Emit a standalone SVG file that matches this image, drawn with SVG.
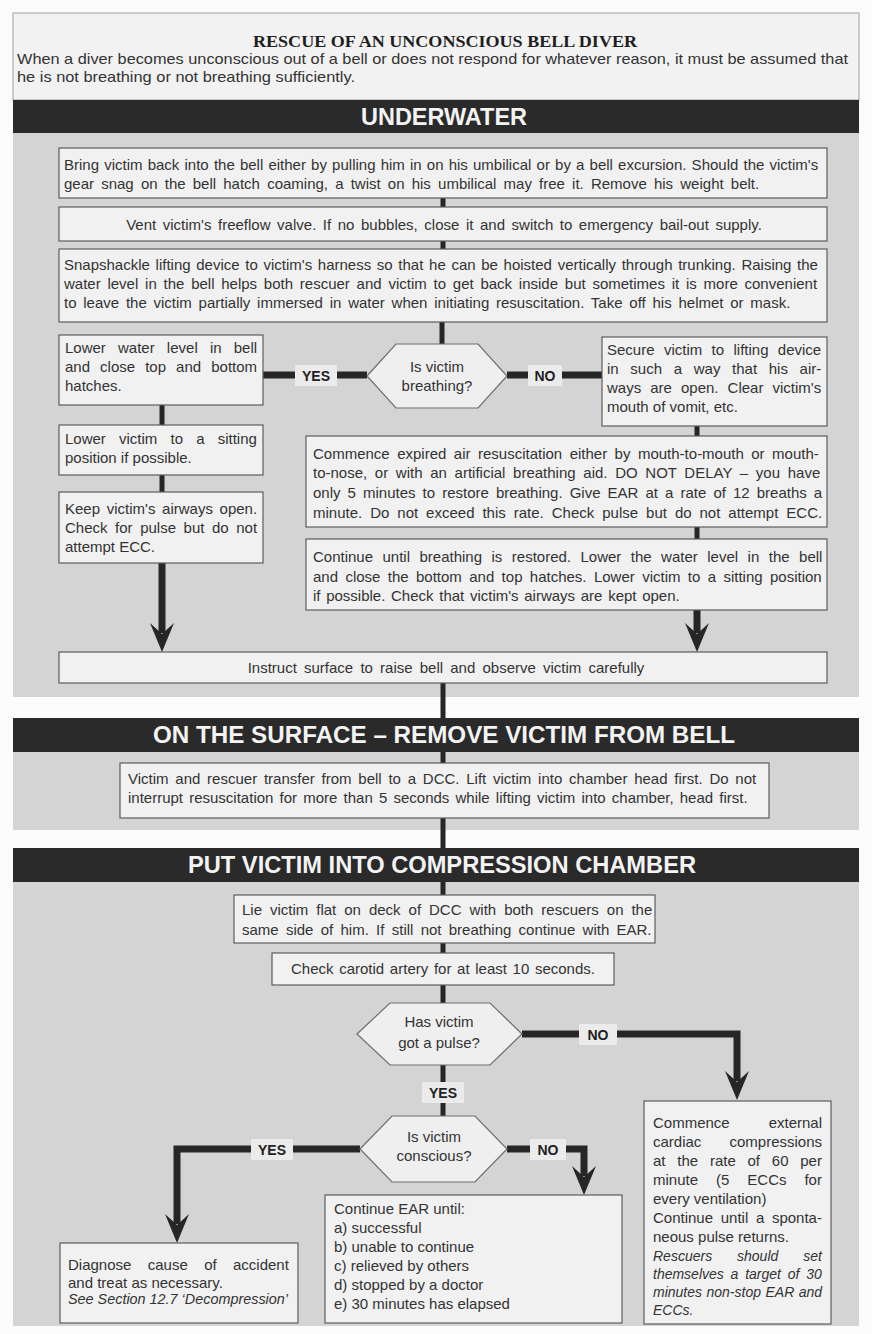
<svg xmlns="http://www.w3.org/2000/svg" width="872" height="1334" viewBox="0 0 872 1334">
<defs>
<style>
.bg{fill:#fbfbfb}
.panel{fill:#d4d4d4}
.band{fill:#2a2a2a}
.hdr{fill:#f2f2f2;stroke:#a0a0a0;stroke-width:1}
.box{fill:#f1f1f1;stroke:#5e5e5e;stroke-width:1.2}
.hex{fill:#efefef;stroke:#6e6e6e;stroke-width:1.2}
.t{font-family:"Liberation Sans",Arial,Helvetica,sans-serif;font-size:15px;fill:#333333}
.it{font-style:italic;font-size:14px}
.m{text-anchor:middle}
.bt{font-family:"Liberation Sans",Arial,sans-serif;font-weight:bold;font-size:23px;fill:#f3f3f3;text-anchor:middle}
.title{font-family:"Liberation Serif","Times New Roman",serif;font-weight:bold;font-size:17px;fill:#1e1e1e;text-anchor:middle}
.ln{stroke:#262626;fill:none;stroke-linejoin:miter}
.w5{stroke-width:5}
.w7{stroke-width:7}
.arr{marker-end:url(#ah)}
.lb{fill:#ebebeb}
.lt{font-family:"Liberation Sans",Arial,sans-serif;font-weight:bold;font-size:14px;fill:#222;text-anchor:middle}
</style>
<marker id="ah" markerUnits="userSpaceOnUse" markerWidth="30" markerHeight="24" refX="10" refY="12" orient="auto" viewBox="0 0 30 24">
<path d="M0,0 L29,12 L0,24 L11,12 Z" fill="#262626"/>
</marker>
</defs>

<g id="background">
<rect class="bg" x="0" y="0" width="872" height="1334"/>
<rect class="panel" x="13" y="133" width="846" height="564"/>
<rect class="panel" x="13" y="752" width="846" height="78"/>
<rect class="panel" x="13" y="882" width="846" height="444"/>
</g>

<g id="header">
<rect class="hdr" x="13" y="13" width="846" height="87"/>
<text class="title" x="445" y="47" textLength="384" lengthAdjust="spacingAndGlyphs">RESCUE OF AN UNCONSCIOUS BELL DIVER</text>
<text class="t" x="17" y="64" textLength="831" lengthAdjust="spacingAndGlyphs">When a diver becomes unconscious out of a bell or does not respond for whatever reason, it must be assumed that</text>
<text class="t" x="17" y="82" textLength="338" lengthAdjust="spacingAndGlyphs">he is not breathing or not breathing sufficiently.</text>
</g>

<g id="band-underwater">
<rect class="band" x="13" y="100" width="846" height="33"/>
<text class="bt" x="444" y="125" textLength="166" lengthAdjust="spacingAndGlyphs">UNDERWATER</text>
</g>
<g id="band-surface">
<rect class="band" x="13" y="718" width="846" height="34"/>
<text class="bt" x="444" y="743" textLength="582" lengthAdjust="spacingAndGlyphs">ON THE SURFACE – REMOVE VICTIM FROM BELL</text>
</g>
<g id="band-chamber">
<rect class="band" x="13" y="848" width="846" height="34"/>
<text class="bt" x="442" y="873" textLength="508" lengthAdjust="spacingAndGlyphs">PUT VICTIM INTO COMPRESSION CHAMBER</text>
</g>

<g id="connectors">
<path class="ln w5" d="M443,198 V207"/>
<path class="ln w5" d="M443,241 V249"/>
<path class="ln w5" d="M442,322 V344"/>
<path class="ln w5" d="M162,405 V425"/>
<path class="ln w5" d="M162,475 V492"/>
<path class="ln w7 arr" d="M162,563 V633"/>
<path class="ln w7" d="M263,375 H367"/>
<path class="ln w7" d="M507,375 H602"/>
<path class="ln w5" d="M697,426 V436"/>
<path class="ln w5" d="M697,527 V539"/>
<path class="ln w7 arr" d="M697,610 V633"/>
<path class="ln w5" d="M443,683 V718"/>
<path class="ln w5" d="M443,752 V763"/>
<path class="ln w5" d="M443,818 V848"/>
<path class="ln w5" d="M443,882 V895"/>
<path class="ln w5" d="M443,943 V953"/>
<path class="ln w5" d="M443,985 V1003"/>
<path class="ln w7 arr" d="M522,1034 H737 V1081"/>
<path class="ln w5" d="M443,1065 V1116"/>
<path class="ln w7 arr" d="M360,1149 H177 V1224"/>
<path class="ln w7 arr" d="M507,1149 H584 V1176"/>
<rect class="lb" x="295" y="365" width="42" height="21"/>
<text class="lt" x="316" y="381">YES</text>
<rect class="lb" x="528" y="365" width="34" height="21"/>
<text class="lt" x="545" y="381">NO</text>
<rect class="lb" x="579" y="1024" width="38" height="21"/>
<text class="lt" x="598" y="1040">NO</text>
<rect class="lb" x="422" y="1082" width="42" height="21"/>
<text class="lt" x="443" y="1098">YES</text>
<rect class="lb" x="251" y="1139" width="42" height="21"/>
<text class="lt" x="272" y="1155">YES</text>
<rect class="lb" x="530" y="1139" width="36" height="21"/>
<text class="lt" x="548" y="1155">NO</text>
</g>

<g id="n-bring">
<rect class="box" x="59" y="148" width="768" height="50"/>
<text class="t" x="64" y="170" word-spacing="1">Bring victim back into the bell either by pulling him in on his umbilical or by a bell excursion. Should the victim's</text>
<text class="t" x="64" y="189" word-spacing="3">gear snag on the bell hatch coaming, a twist on his umbilical may free it.  Remove his weight belt.</text>
</g>
<g id="n-vent">
<rect class="box" x="59" y="207" width="768" height="34"/>
<text class="t m" x="444" y="230" word-spacing="2.4">Vent victim's freeflow valve. If no bubbles, close it and switch to emergency bail-out supply.</text>
</g>
<g id="n-snap">
<rect class="box" x="59" y="249" width="768" height="73"/>
<text class="t" x="64" y="270" word-spacing="1.5">Snapshackle lifting device to victim's harness so that he can be hoisted vertically through trunking. Raising the</text>
<text class="t" x="64" y="289" word-spacing="2.6">water level in the bell helps both rescuer and victim to get back inside but sometimes it is more convenient</text>
<text class="t" x="64" y="308" word-spacing="2.6">to leave the victim partially immersed in water when initiating resuscitation. Take off his helmet or mask.</text>
</g>
<g id="n-breathing">
<polygon class="hex" points="367,376 396,344 478,344 507,376 478,408 396,408"/>
<text class="t m" x="437" y="372">Is victim</text>
<text class="t m" x="437" y="391">breathing?</text>
</g>
<g id="n-lower-water">
<rect class="box" x="59" y="335" width="204" height="70"/>
<text class="t" x="65" y="353" word-spacing="8">Lower water level in bell</text>
<text class="t" x="65" y="372" word-spacing="5.9">and close top and bottom</text>
<text class="t" x="65" y="391">hatches.</text>
</g>
<g id="n-lower-sit">
<rect class="box" x="59" y="425" width="204" height="50"/>
<text class="t" x="65" y="444" word-spacing="9">Lower victim to a sitting</text>
<text class="t" x="65" y="463">position if possible.</text>
</g>
<g id="n-keep-airways">
<rect class="box" x="59" y="492" width="204" height="71"/>
<text class="t" x="65" y="514" word-spacing="2.5">Keep victim's airways open.</text>
<text class="t" x="65" y="533" word-spacing="3.4">Check for pulse but do not</text>
<text class="t" x="65" y="552">attempt ECC.</text>
</g>
<g id="n-secure">
<rect class="box" x="602" y="337" width="225" height="89"/>
<text class="t" x="607" y="355" word-spacing="5.2">Secure victim to lifting device</text>
<text class="t" x="607" y="374" word-spacing="7.5">in such a way that his air-</text>
<text class="t" x="607" y="393" word-spacing="4.9">ways are open. Clear victim's</text>
<text class="t" x="607" y="412">mouth of vomit, etc.</text>
</g>
<g id="n-ear">
<rect class="box" x="306" y="436" width="521" height="91"/>
<text class="t" x="313" y="459" word-spacing="3.3">Commence expired air resuscitation either by mouth-to-mouth or mouth-</text>
<text class="t" x="313" y="478" word-spacing="3.5">to-nose, or with an artificial breathing aid. DO NOT DELAY – you have</text>
<text class="t" x="313" y="498" word-spacing="2.9">only 5 minutes to restore breathing. Give EAR at a rate of 12 breaths a</text>
<text class="t" x="313" y="518" word-spacing="3.8">minute. Do not exceed this rate. Check pulse but do not attempt ECC.</text>
</g>
<g id="n-continue">
<rect class="box" x="306" y="539" width="521" height="71"/>
<text class="t" x="313" y="562" word-spacing="5.3">Continue until breathing is restored. Lower the water level in the bell</text>
<text class="t" x="313" y="582" word-spacing="3.2">and close the bottom and top hatches. Lower victim to a sitting position</text>
<text class="t" x="313" y="601" word-spacing="1.5">if possible. Check that victim's airways are kept open.</text>
</g>
<g id="n-instruct">
<rect class="box" x="59" y="652" width="768" height="31"/>
<text class="t m" x="446" y="673" word-spacing="3">Instruct surface to raise bell and observe victim carefully</text>
</g>
<g id="n-transfer">
<rect class="box" x="120" y="763" width="649" height="55"/>
<text class="t" x="128" y="784" word-spacing="2.6">Victim and rescuer transfer from bell to a DCC. Lift victim into chamber head first. Do not</text>
<text class="t" x="128" y="803" word-spacing="2">interrupt resuscitation for more than 5 seconds while lifting victim into chamber, head first.</text>
</g>
<g id="n-lie">
<rect class="box" x="234" y="895" width="421" height="48"/>
<text class="t" x="242" y="915" word-spacing="3.8">Lie victim flat on deck of DCC with both rescuers on the</text>
<text class="t" x="242" y="935" word-spacing="3.1">same side of him. If still not breathing continue with EAR.</text>
</g>
<g id="n-carotid">
<rect class="box" x="272" y="953" width="342" height="32"/>
<text class="t m" x="443" y="974" word-spacing="1.5">Check carotid artery for at least 10 seconds.</text>
</g>
<g id="n-pulse">
<polygon class="hex" points="357,1034 390,1003 490,1003 522,1034 490,1065 390,1065"/>
<text class="t m" x="439" y="1027">Has victim</text>
<text class="t m" x="439" y="1048">got a pulse?</text>
</g>
<g id="n-conscious">
<polygon class="hex" points="360,1149 392,1116 475,1116 507,1149 475,1182 392,1182"/>
<text class="t m" x="434" y="1142">Is victim</text>
<text class="t m" x="434" y="1161">conscious?</text>
</g>
<g id="n-diagnose">
<rect class="box" x="60" y="1243" width="238" height="80"/>
<text class="t" x="68" y="1270" word-spacing="12.2">Diagnose cause of accident</text>
<text class="t" x="68" y="1288">and treat as necessary.</text>
<text class="t it" x="68" y="1304" textLength="220" lengthAdjust="spacingAndGlyphs">See Section 12.7 ‘Decompression’</text>
</g>
<g id="n-continue-ear">
<rect class="box" x="325" y="1195" width="297" height="128"/>
<text class="t" x="334" y="1214">Continue EAR until:</text>
<text class="t" x="334" y="1233">a) successful</text>
<text class="t" x="334" y="1252">b) unable to continue</text>
<text class="t" x="334" y="1271">c) relieved by others</text>
<text class="t" x="334" y="1290">d) stopped by a doctor</text>
<text class="t" x="334" y="1309">e) 30 minutes has elapsed</text>
</g>
<g id="n-ecc">
<rect class="box" x="644" y="1101" width="187" height="223"/>
<text class="t" x="653" y="1128" word-spacing="34.8">Commence external</text>
<text class="t" x="653" y="1147" word-spacing="24">cardiac compressions</text>
<text class="t" x="653" y="1166" word-spacing="7.6">at the rate of 60 per</text>
<text class="t" x="653" y="1185" word-spacing="13.8">minute (5 ECCs for</text>
<text class="t" x="653" y="1204">every ventilation)</text>
<text class="t" x="653" y="1223" word-spacing="3.5">Continue until a sponta-</text>
<text class="t" x="653" y="1242">neous pulse returns.</text>
<text class="t it" x="653" y="1261" word-spacing="21">Rescuers should set</text>
<text class="t it" x="653" y="1279" word-spacing="2.9">themselves a target of 30</text>
<text class="t it" x="653" y="1297" word-spacing="0.6">minutes non-stop EAR and</text>
<text class="t it" x="653" y="1315">ECCs.</text>
</g>
</svg>
